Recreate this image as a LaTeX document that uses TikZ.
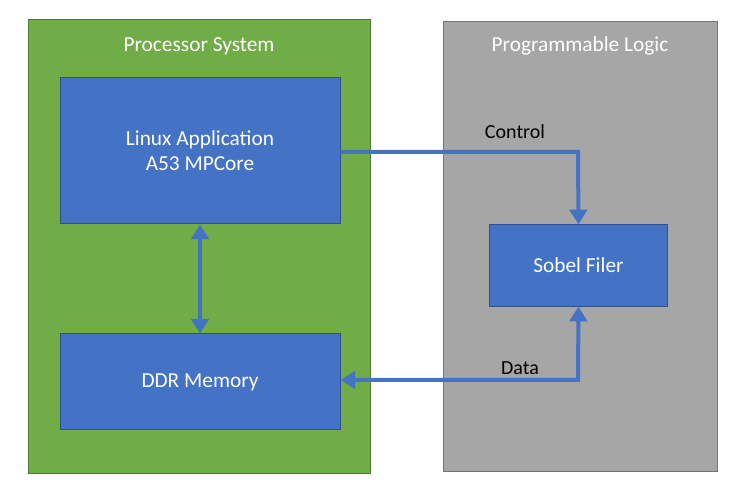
\documentclass[tikz,border=0pt]{standalone}
\usepackage{fontspec}
\setmainfont{Carlito}
\usetikzlibrary{arrows.meta}
\definecolor{psgreen}{RGB}{112,173,71}
\definecolor{plgray}{RGB}{166,166,166}
\definecolor{blkblue}{RGB}{68,114,196}
\definecolor{blkline}{RGB}{47,82,143}
\tikzset{
  region/.style={draw=#1!70!black, fill=#1, line width=0.75pt},
  block/.style={draw=blkline, fill=blkblue, line width=0.75pt, text=white, align=center, font=\fontsize{16}{19}\selectfont},
  title/.style={text=white, font=\fontsize{16}{19}\selectfont},
  link/.style={draw=blkblue, line width=3pt, -{Triangle[length=11pt,width=13pt]}},
  both/.style={link, {Triangle[length=11pt,width=13pt]}-{Triangle[length=11pt,width=13pt]}},
  tag/.style={font=\fontsize{15}{18}\selectfont}
}
\begin{document}
\begin{tikzpicture}[x=0.75pt,y=0.75pt,yscale=-1,xscale=1]
\useasboundingbox (0,0) rectangle (744,498);

% regions
\draw[region=psgreen] (28,20) rectangle (370,474);
\draw[region=plgray] (443,22) rectangle (717,472);
\node[title] (pstitle) at (199,46) {Processor System};
\node[title] (pltitle) at (580,46) {Programmable Logic};

% blocks
\node[block, minimum width=210pt, minimum height=109.5pt] (linux) at (200,151) {Linux Application\\A53 MPCore};
\node[block, minimum width=210pt, minimum height=72pt] (ddr) at (200,382) {DDR Memory};
\node[block, minimum width=134pt, minimum height=61pt] (sobel) at (578.5,265.5) {Sobel Filer};

% connectors
\coordinate (ctlturn) at (578,152);
\coordinate (dataturn) at (578,380);
\draw[link] (linux.east |- ctlturn) -- (ctlturn) -- (sobel.north);
\draw[both] (sobel.south) -- (dataturn) -- (ddr.east |- dataturn);
\draw[both] (linux.south) -- (ddr.north);

% labels
\node[tag] (ctllabel) at (515,132) {Control};
\node[tag] (datalabel) at (520,368) {Data};
\end{tikzpicture}
\end{document}
